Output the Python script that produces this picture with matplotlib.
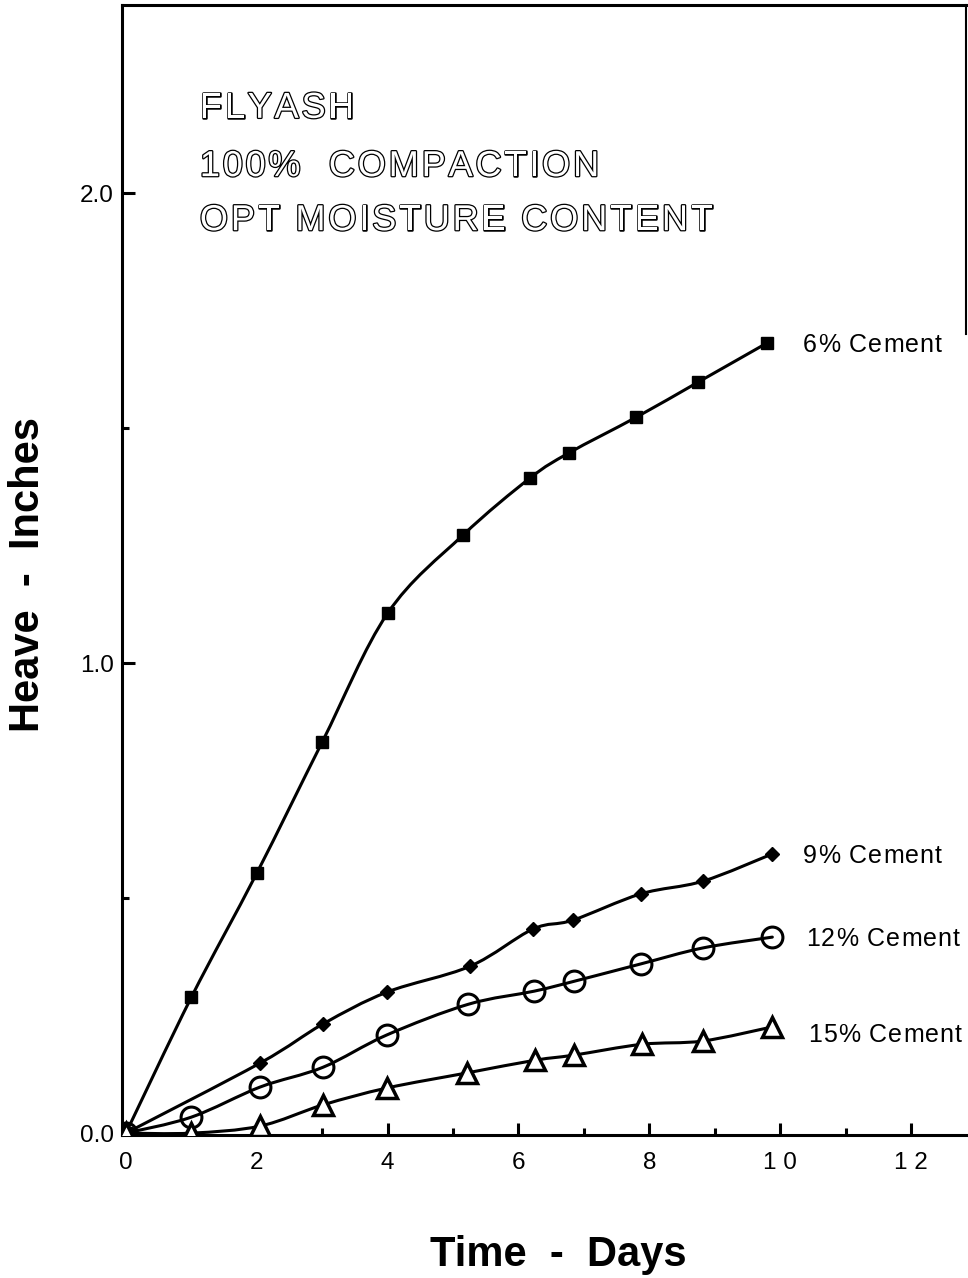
import numpy as np
import matplotlib
matplotlib.use('Agg')
import matplotlib.pyplot as plt
import matplotlib.patheffects as pe
from matplotlib.path import Path
from matplotlib.patches import PathPatch

plt.rcParams['font.family'] = ['Liberation Sans', 'DejaVu Sans']

# heave (inches) vs time (days)
days_6 = [0, 1, 2, 3, 4, 5.15, 6.18, 6.77, 7.8, 8.75, 9.8]
heave_6 = [0, 0.289, 0.553, 0.832, 1.106, 1.272, 1.394, 1.447, 1.523, 1.598, 1.681]

days_9 = [0, 2.05, 3.01, 3.99, 5.26, 6.22, 6.83, 7.87, 8.82, 9.88]
heave_9 = [0, 0.149, 0.232, 0.300, 0.355, 0.434, 0.453, 0.509, 0.536, 0.594]

days_12 = [0, 1, 2.05, 3.01, 3.99, 5.23, 6.24, 6.85, 7.87, 8.82, 9.88]
heave_12 = [0, 0.034, 0.098, 0.140, 0.209, 0.274, 0.302, 0.323, 0.360, 0.394, 0.417]

days_15 = [0, 1, 2.05, 3.01, 3.99, 5.21, 6.25, 6.85, 7.89, 8.82, 9.88]
heave_15 = [0, 0.0, 0.015, 0.060, 0.096, 0.128, 0.155, 0.166, 0.189, 0.196, 0.226]

labels = ['6% Cement', '9% Cement', '12% Cement', '15% Cement']
label_pos = [(10.35, 1.677), (10.35, 0.589), (10.4, 0.413), (10.43, 0.209)]
title_lines = ['FLYASH', '100%  COMPACTION', 'OPT MOISTURE CONTENT']

fig = plt.figure(figsize=(9.68, 12.78), dpi=100)
ax = fig.add_axes([122/968., 143/1278., 844/968., 1130/1278.])
ax.set_xlim(-0.06, 12.84)
ax.set_ylim(-0.004, 2.4)
renderer = fig.canvas.get_renderer()


def spaced_text(x, y, s, gap, **kw):
    # matplotlib has no letter spacing, so place the letters one by one
    off = 0.0
    for ch in s:
        t = ax.annotate(ch, (x, y), xytext=(off, 0),
                        textcoords='offset pixels', annotation_clip=False, **kw)
        off += t.get_window_extent(renderer).width + gap


def smooth_line(xs, ys, **kw):
    # curved connection through the points (Catmull-Rom as bezier segments)
    p = np.column_stack([xs, ys]).astype(float)
    verts = [p[0]]
    codes = [Path.MOVETO]
    n = len(p)
    for i in range(n - 1):
        p0 = p[max(i - 1, 0)]
        p1 = p[i]
        p2 = p[i + 1]
        p3 = p[min(i + 2, n - 1)]
        verts += [p1 + (p2 - p0) / 6., p2 - (p3 - p1) / 6., p2]
        codes += [Path.CURVE4] * 3
    ax.add_patch(PathPatch(Path(verts, codes), fill=False, **kw))


series = [(days_6, heave_6, dict(marker='s', ms=8.5, mfc='black', mew=1)),
          (days_9, heave_9, dict(marker='D', ms=7.5, mfc='black', mew=1)),
          (days_12, heave_12, dict(marker='o', ms=15, mfc='none', mew=2.2)),
          (days_15, heave_15, dict(marker='^', ms=15, mfc='white', mew=2.5))]

for xs, ys, mk in series:
    smooth_line(xs, ys, edgecolor='black', lw=2.2, capstyle='round',
                joinstyle='round', zorder=2)
    ax.plot(xs, ys, ls='none', mec='black', zorder=4, **mk)

for lab, (x, y) in zip(labels, label_pos):
    spaced_text(x, y, lab, 1.0, fontsize=18, va='center', ha='left')

outline = [pe.withStroke(linewidth=1.8, foreground='black')]
for line, yb in zip(title_lines, [2.160, 2.036, 1.921]):
    spaced_text(1.13, yb, line, 2.8, fontsize=26, va='baseline', ha='left',
                color='white', path_effects=outline)

ax.set_xticks([0, 2, 4, 6, 8, 10, 12])
ax.set_xticklabels(['0', '2', '4', '6', '8', '1 0', '1 2'])
ax.set_xticks([1, 3, 5, 7, 9, 11], minor=True)
ax.set_yticks([0, 1.0, 2.0])
ax.set_yticklabels(['0.0', '1.0', '2.0'])
ax.set_yticks([0.5, 1.5], minor=True)

ax.tick_params(axis='both', which='major', direction='in', length=9,
               width=2.2, labelsize=17.5)
ax.tick_params(axis='both', which='minor', direction='in', length=5,
               width=2.2)
ax.tick_params(axis='x', which='major', pad=12)
ax.tick_params(axis='y', which='major', pad=6)

for s in ['left', 'bottom', 'top']:
    ax.spines[s].set_linewidth(2.2)
ax.spines['right'].set_linewidth(1.5)
ax.spines['right'].set_bounds(1.7, 2.4)

fig.text(558/968., 1-1255/1278., 'Time  -  Days', fontsize=30,
         fontweight='bold', ha='center', va='center')
fig.text(28/968., 1-575/1278., 'Heave  -  Inches', fontsize=30,
         fontweight='bold', ha='center', va='center', rotation=90)

fig.savefig('out.png', dpi=100)
